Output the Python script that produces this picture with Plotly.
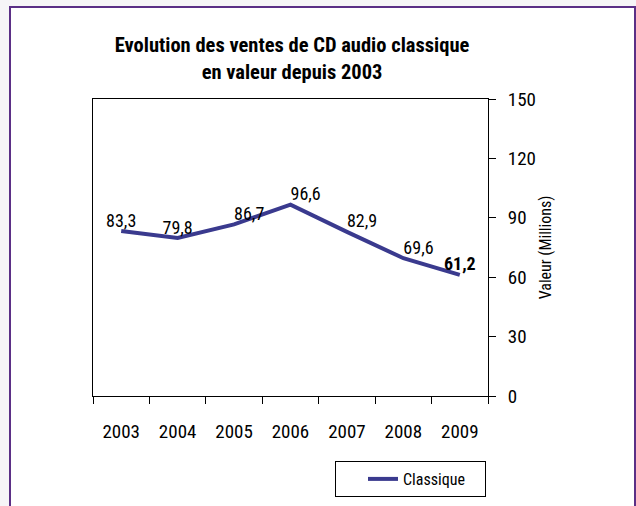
import plotly.graph_objects as go

years = ["2003", "2004", "2005", "2006", "2007", "2008", "2009"]
values = [83.3, 79.8, 86.7, 96.6, 82.9, 69.6, 61.2]
label_positions = ["top center", "top center", "top right", "top right",
                   "top right", "top right", "top center"]
y_ticks = [0, 30, 60, 90, 120, 150]
series_name = "Classique"
title_text = "<b>Evolution des ventes de CD audio classique<br>en valeur depuis 2003</b>"
y_title = "Valeur (Millions)"

FONT = ("Roboto Condensed, Open Sans Condensed, Liberation Sans Narrow, "
        "DejaVu Sans Condensed, sans-serif")
LINE_COLOR = "#3a3a8e"
FS_TICK = 19
FS_LABEL = 18

labels = [f"{v:.1f}".replace(".", ",") for v in values]
labels[-1] = "<b>" + labels[-1] + "</b>"

W, H = 636, 506
L, R, T, B = 93, 488, 99, 396

fig = go.Figure()
fig.add_trace(go.Scatter(
    x=years, y=values, mode="lines+text", name=series_name,
    line=dict(color=LINE_COLOR, width=4),
    text=labels, textposition=label_positions,
    textfont=dict(family=FONT, size=FS_LABEL, color="black"),
    cliponaxis=False,
))

def px_x(p):
    return (p - L) / (R - L)

def px_y(p):
    return (B - p) / (B - T)

# outer frame
fig.add_shape(type="rect", xref="paper", yref="paper", layer="below",
              x0=px_x(10), x1=px_x(635), y0=px_y(540), y1=px_y(7),
              line=dict(color="#5b2f86", width=2), fillcolor="white")

fig.update_layout(
    width=W, height=H,
    margin=dict(l=L, r=W - R, t=T, b=H - B, autoexpand=False),
    paper_bgcolor="#f6f5f7", plot_bgcolor="white",
    font=dict(family=FONT, size=FS_TICK, color="black"),
    title=dict(text=title_text, x=px_x(292), xref="paper", xanchor="center",
               y=1 - 52 / H, yref="container", yanchor="top",
               font=dict(family=FONT, size=20.5, color="black")),
    showlegend=True,
    legend=dict(x=486 / W, xanchor="right", y=1 - 461 / H, yanchor="top",
                xref="container", yref="container", orientation="h",
                bordercolor="black", borderwidth=1, bgcolor="white",
                font=dict(family=FONT, size=16), indentation=27,
                entrywidth=77, tracegroupgap=0),
    xaxis=dict(type="category", range=[-0.5, 6.5],
               showline=True, linecolor="black", linewidth=1,
               mirror=True, ticks="outside", ticklen=7, tickcolor="black",
               tickson="boundaries", showgrid=False, zeroline=False,
               ticklabelstandoff=18, tickfont=dict(size=FS_TICK)),
    yaxis=dict(side="right", range=[0, 150], tickvals=y_ticks,
               showline=True, linecolor="black", linewidth=1, mirror=True,
               ticks="outside", ticklen=7, tickcolor="black",
               showgrid=False, zeroline=False, ticklabelstandoff=8,
               automargin=True, tickfont=dict(size=FS_TICK),
               title=dict(text=y_title, font=dict(size=16), standoff=4)),
)

fig.write_html("out.html", config={"displayModeBar": False},
               post_script="document.body.style.margin='0';")
